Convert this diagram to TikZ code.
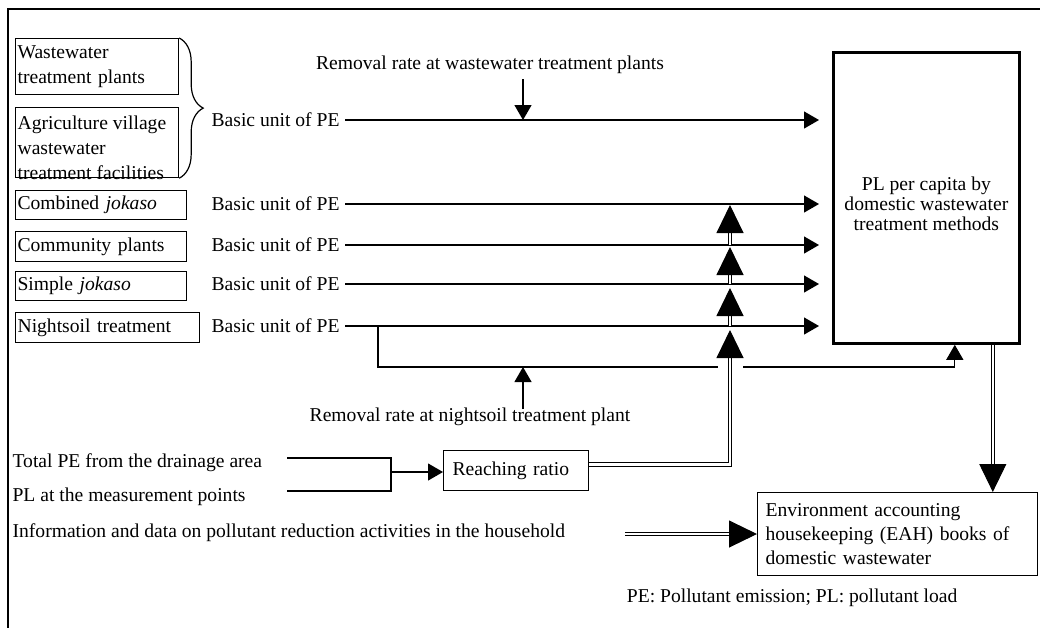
\documentclass[tikz,border=0pt]{standalone}
\usepackage{fontspec}
\setmainfont{Liberation Serif}
\usetikzlibrary{arrows.meta,decorations.pathreplacing,positioning}

\tikzset{
  box/.style={draw, line width=0.6pt, anchor=north west, align=left, inner xsep=1pt, inner ysep=0pt},
  txt/.style={anchor=west, inner sep=0pt},
  flow/.style={line width=0.6pt, -{Triangle[length=7.5pt,width=8.5pt]}},
  dbl/.style={double, line width=0.5pt, double distance=1.2pt},
  bigtip/.style={-{Triangle[length=14pt,width=13.5pt]}},
}

\begin{document}
\begin{tikzpicture}[x=0.5pt, y=-0.5pt, font=\fontsize{9.8}{12.5}\selectfont, line width=0.6pt]
\useasboundingbox (0,0) rectangle (1040,628);
\draw[line width=0.8pt] (1040,9) -| (8,628);

\node[box, text width=79.5pt, minimum height=28pt] (wwtp) at (15,38) {Wastewater\\treatment plants};
\node[box, text width=79.5pt, minimum height=35pt] (agr) at (15,107) {};
\node[align=left, inner sep=0pt, anchor=west] (agrtext) at ([xshift=1pt, yshift=-2.5pt]agr.west) {Agriculture village\\wastewater\\treatment facilities};
\node[box, text width=83.5pt, minimum height=14.5pt] (comb) at (15,190) {Combined \textit{jokaso}};
\node[box, text width=83.5pt, minimum height=15pt] (comm) at (15,231) {Community plants};
\node[box, text width=83.5pt, minimum height=14.5pt] (simp) at (15,271) {Simple \textit{jokaso}};
\node[box, text width=90pt, minimum height=15pt] (night) at (15,312) {Nightsoil treatment};
\draw[decorate, decoration={brace, amplitude=12pt}] (wwtp.north east) -- (agr.south east);

\node[txt] (bu1) at (211,120) {Basic unit of PE};
\node[txt] (bu2) at (211,204) {Basic unit of PE};
\node[txt] (bu3) at (211,245) {Basic unit of PE};
\node[txt] (bu4) at (211,284) {Basic unit of PE};
\node[txt] (bu5) at (211,326) {Basic unit of PE};

\node[draw, line width=1.4pt, anchor=north west, minimum width=93pt, minimum height=145.5pt, inner sep=0pt] (pl) at (832,51) {};
\node[align=center, inner sep=0pt, font=\fontsize{9.8}{10}\selectfont] (pltext) at ([yshift=-3pt]pl.center) {PL per capita by\\domestic wastewater\\treatment methods};

\foreach \r in {bu1,bu2,bu3,bu4,bu5}
  \draw[flow, shorten >=6.5pt] ([xshift=2.5pt]\r.east) -- (\r.east -| pl.west);

\node (rrw) at (490,65) {Removal rate at wastewater treatment plants};
\coordinate (rrwtop) at (523,79);
\draw[flow] (rrwtop) -- (rrwtop |- bu1.east);

\node (rrn) at (470,417) {Removal rate at nightsoil treatment plant};
\coordinate (nsleft) at (378,0);
\coordinate (gapl) at (718,367);
\coordinate (gapr) at (743,367);
\coordinate (rrnbot) at (523,409);
\draw (nsleft |- bu5.east) |- (gapl);
\draw[flow] (gapr) -| ([xshift=-33pt]pl.south east);
\draw[flow] (rrnbot) -- (rrnbot |- gapl);

\node[txt] (tpe) at (12,463) {Total PE from the drainage area};
\node[txt] (plm) at (12,497) {PL at the measurement points};
\node[txt] (info) at (12,533) {Information and data on pollutant reduction activities in the household};

\node[draw, anchor=north west, minimum width=72.5pt, minimum height=20pt, text width=63.5pt, inner xsep=4.5pt, inner ysep=0pt, align=left] (rr) at (443,450) {Reaching ratio};
\coordinate (tin) at (287,458);
\coordinate (pin) at (287,491);
\coordinate (jn) at (391,472);
\draw (tin) -| (jn) |- (pin);
\draw[flow] (jn) -- (jn -| rr.west);

\coordinate (vx) at (730,0);
\draw[dbl, bigtip] ([yshift=3pt]rr.east) -| ([yshift=-2pt]vx |- bu5.east);
\draw[dbl, bigtip] (vx |- bu5.east) -- ([yshift=-2pt]vx |- bu4.east);
\draw[dbl, bigtip] (vx |- bu4.east) -- ([yshift=-1pt]vx |- bu3.east);
\draw[dbl, bigtip] (vx |- bu3.east) -- ([yshift=-0.5pt]vx |- bu2.east);

\node[draw, anchor=north west, minimum width=140pt, minimum height=41.5pt, text width=132pt, inner xsep=4pt, inner ysep=0pt, align=left, font=\fontsize{9.8}{12}\selectfont] (eah) at (757,492) {Environment accounting\\housekeeping (EAH) books of\\domestic wastewater};
\draw[dbl, bigtip] ([xshift=-14pt]pl.south east) -- ([xshift=-14pt]pl.south east |- eah.north);
\coordinate (infoend) at (625,534);
\draw[dbl, bigtip] (infoend) -- (infoend -| eah.west);

\node[anchor=east, inner sep=0pt] (note) at (958,598) {PE: Pollutant emission; PL: pollutant load};
\end{tikzpicture}
\end{document}
